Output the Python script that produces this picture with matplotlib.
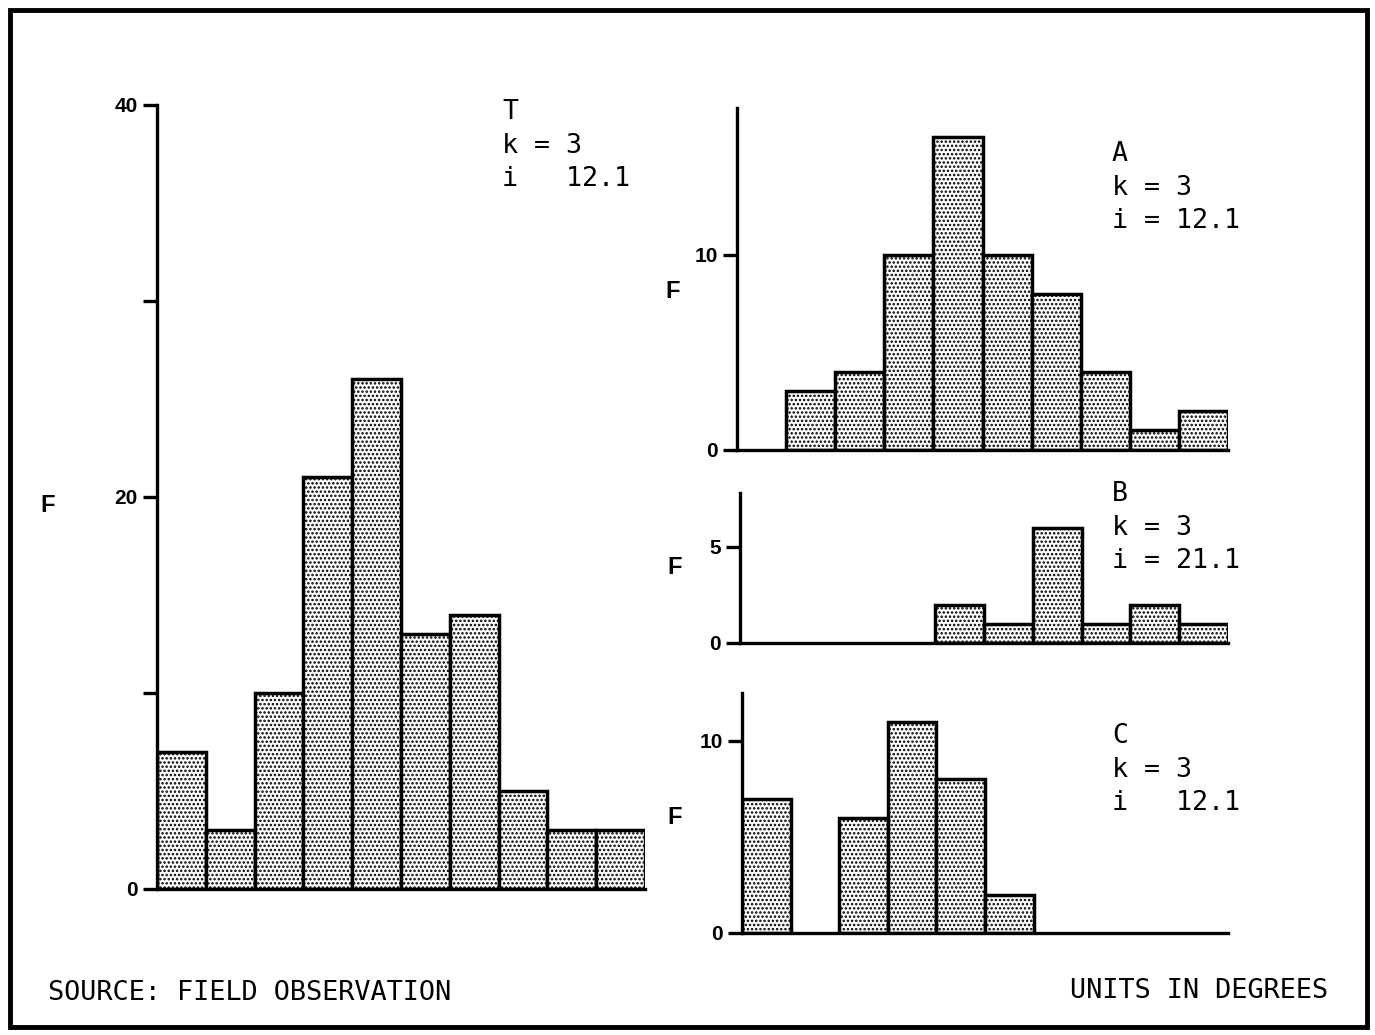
import matplotlib
matplotlib.use("Agg")
import matplotlib.pyplot as plt
from matplotlib.patches import Rectangle

# frequency per class (10 classes, same bins for every panel)
bins = list(range(10))
freq_t = [7, 3, 10, 21, 26, 13, 14, 5, 3, 3]
freq_a = [0, 3, 4, 10, 16, 10, 8, 4, 1, 2]
freq_b = [0, 0, 0, 0, 2, 1, 6, 1, 2, 1]
freq_c = [7, 0, 6, 11, 8, 2, 0, 0, 0, 0]

W, H = 1375, 1035
plt.rcParams["hatch.linewidth"] = 1.2
plt.rcParams["hatch.color"] = "black"

fig = plt.figure(figsize=(W / 100, H / 100), dpi=100)

mono = "DejaVu Sans Mono"
bold = "Liberation Sans"


def px_axes(left, right, bottom, top):
    return fig.add_axes([left / W, 1 - bottom / H, (right - left) / W, (bottom - top) / H])


def histo(ax, freq, ymax, ticks, labels):
    x = [b + 0.5 for b in bins]
    for xi, h in zip(x, freq):
        if h > 0:
            ax.bar(xi, h, width=1.0, facecolor="white", edgecolor="black",
                   linewidth=2.5, hatch="....")
    ax.set_xlim(0, 10)
    ax.set_ylim(0, ymax)
    for s in ["top", "right"]:
        ax.spines[s].set_visible(False)
    ax.spines["left"].set_linewidth(2.4)
    ax.spines["bottom"].set_linewidth(2.4)
    ax.set_xticks([])
    ax.set_yticks(ticks)
    ax.set_yticklabels(labels, fontfamily=bold, fontweight="bold", fontsize=15)
    ax.tick_params(axis="y", length=10, width=2.4, pad=4)
    ax.patch.set_alpha(0)


ax_t = px_axes(157, 645, 889, 105)
histo(ax_t, freq_t, 40, [0, 10, 20, 30, 40], ["0", "", "20", "", "40"])

ax_a = px_axes(737, 1228, 450, 108)
histo(ax_a, freq_a, 17.5, [0, 10], ["0", "10"])

ax_b = px_axes(740, 1228, 643, 493)
histo(ax_b, freq_b, 7.8, [0, 5], ["0", "5"])

ax_c = px_axes(742, 1228, 933, 693)
histo(ax_c, freq_c, 12.5, [0, 10], ["0", "10"])

# axis letters
for xp, yp in [(48, 505), (673, 291), (675, 568), (675, 818)]:
    fig.text(xp / W, 1 - yp / H, "F", fontfamily=bold, fontweight="bold",
             fontsize=17, ha="center", va="center")

# panel notes
notes = [
    (502, 110, "T\nk = 3\ni   12.1"),
    (1112, 152, "A\nk = 3\ni = 12.1"),
    (1112, 492, "B\nk = 3\ni = 21.1"),
    (1112, 734, "C\nk = 3\ni   12.1"),
]
for xp, yp, txt in notes:
    fig.text(xp / W, 1 - (yp - 11) / H, txt, fontfamily=mono, fontsize=19.2,
             ha="left", va="top", linespacing=1.38)

fig.text(48 / W, 1 - 993 / H, "SOURCE: FIELD OBSERVATION", fontfamily=mono,
         fontsize=19.4, ha="left", va="center")
fig.text(1328 / W, 1 - 991 / H, "UNITS IN DEGREES", fontfamily=mono,
         fontsize=19.4, ha="right", va="center")

# frame round the figure
fig.patches.append(Rectangle((10 / W, 8 / H), 1357 / W, 1017 / H, transform=fig.transFigure,
                             fill=False, edgecolor="black", linewidth=3.5))

fig.savefig("out.png", dpi=100, facecolor="white")
